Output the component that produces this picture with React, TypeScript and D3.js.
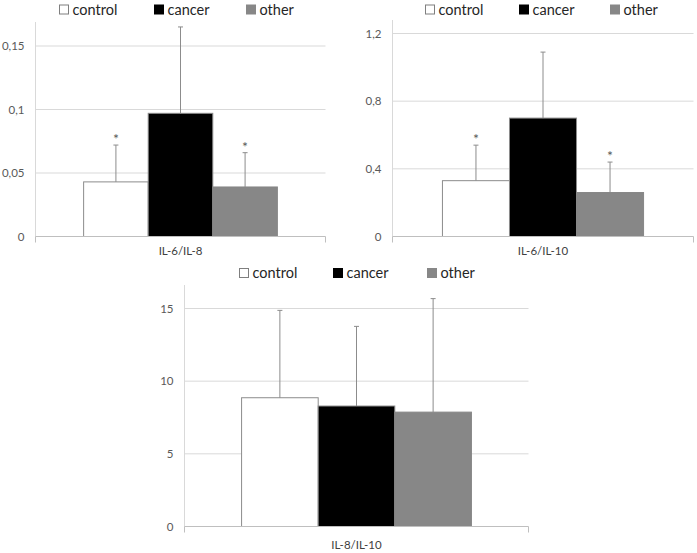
import React from "react";
import * as d3 from "d3";

const groups = ["control", "cancer", "other"];
const groupFills = ["#ffffff", "#000000", "#878787"];

const il6il8Label = "IL-6/IL-8";
const il6il8Means = [0.043, 0.097, 0.039];
const il6il8Errs = [0.029, 0.068, 0.027];
const il6il8Stars = [true, false, true];
const il6il8Ticks = [0, 0.05, 0.1, 0.15];
const il6il8TickLabels = ["0", "0,05", "0,1", "0,15"];

const il6il10Label = "IL-6/IL-10";
const il6il10Means = [0.33, 0.70, 0.26];
const il6il10Errs = [0.21, 0.39, 0.18];
const il6il10Stars = [true, false, true];
const il6il10Ticks = [0, 0.4, 0.8, 1.2];
const il6il10TickLabels = ["0", "0,4", "0,8", "1,2"];

const il8il10Label = "IL-8/IL-10";
const il8il10Means = [8.86, 8.29, 7.87];
const il8il10Errs = [6.01, 5.48, 7.81];
const il8il10Stars = [false, false, false];
const il8il10Ticks = [0, 5, 10, 15];
const il8il10TickLabels = ["0", "5", "10", "15"];

const FONT = "Lato, 'Open Sans', sans-serif";

type PanelProps = {
  label: string;
  means: number[];
  errs: number[];
  stars: boolean[];
  ticks: number[];
  tickLabels: string[];
  x0: number;
  x1: number;
  yZero: number;
  yTopTick: number;
  axisTop: number;
  legendX: number[];
  legendY: number;
  labelY: number;
};

function Panel(p: PanelProps) {
  const y = d3
    .scaleLinear()
    .domain([0, p.ticks[p.ticks.length - 1]])
    .range([p.yZero, p.yTopTick]);
  const x = d3
    .scaleBand<string>()
    .domain(groups)
    .range([p.x0, p.x1])
    .paddingInner(0)
    .paddingOuter(0.745);
  const bw = x.bandwidth();
  const cx = (p.x0 + p.x1) / 2;
  return (
    <g>
      {p.ticks.slice(1).map((t, i) => (
        <line key={"g" + i} x1={p.x0} x2={p.x1} y1={y(t)} y2={y(t)} stroke="#d9d9d9" strokeWidth={1} />
      ))}
      <line x1={p.x0} x2={p.x0} y1={p.axisTop} y2={p.yZero} stroke="#d9d9d9" strokeWidth={1} />
      {p.ticks.map((t, i) => (
        <text
          key={"t" + i}
          x={p.x0 - 11}
          y={y(t)}
          dy="0.35em"
          textAnchor="end"
          fontSize={11.5}
          fill="#595959"
          fontFamily={FONT}
        >
          {p.tickLabels[i]}
        </text>
      ))}
      {groups.map((g, i) => (
        <rect
          key={"b" + i}
          x={x(g)!}
          y={y(p.means[i])}
          width={bw}
          height={p.yZero - y(p.means[i])}
          fill={groupFills[i]}
          stroke={i === 2 ? "#878787" : "#8c8c8c"}
          strokeWidth={1}
        />
      ))}
      <line x1={p.x0} x2={p.x1} y1={p.yZero} y2={p.yZero} stroke="#bfbfbf" strokeWidth={1} />
      <line x1={p.x0} x2={p.x0} y1={p.yZero} y2={p.yZero + 6} stroke="#bfbfbf" strokeWidth={1} />
      <line x1={p.x1} x2={p.x1} y1={p.yZero} y2={p.yZero + 6} stroke="#bfbfbf" strokeWidth={1} />
      {groups.map((g, i) => {
        const ex = x(g)! + bw / 2;
        const top = y(p.means[i] + p.errs[i]);
        return (
          <g key={"e" + i}>
            <line x1={ex} x2={ex} y1={y(p.means[i])} y2={top} stroke="#8c8c8c" strokeWidth={1} />
            <line x1={ex - 2.5} x2={ex + 2.5} y1={top} y2={top} stroke="#8c8c8c" strokeWidth={1} />
            {p.stars[i] && (
              <text x={ex} y={top - 1} textAnchor="middle" fontSize={14} fill="#595959" fontFamily={FONT}>
                *
              </text>
            )}
          </g>
        );
      })}
      <text x={cx} y={p.labelY} dy="0.35em" textAnchor="middle" fontSize={11.5} fill="#404040" fontFamily={FONT}>
        {p.label}
      </text>
      {groups.map((g, i) => (
        <g key={"l" + i}>
          <rect
            x={p.legendX[i] + 0.5}
            y={p.legendY - 9.5}
            width={9}
            height={9}
            fill={groupFills[i]}
            stroke={i === 0 ? "#7f7f7f" : groupFills[i]}
            strokeWidth={1}
          />
          <text x={p.legendX[i] + 13.5} y={p.legendY} fontSize={14.5} fill="#262626" fontFamily={FONT}>
            {g}
          </text>
        </g>
      ))}
    </g>
  );
}

export default function App() {
  return (
    <svg width={697} height={553} style={{ position: "absolute", left: 0, top: 0, background: "#fff" }}>
      <rect width={697} height={553} fill="#fff" />
      <Panel
        label={il6il8Label}
        means={il6il8Means}
        errs={il6il8Errs}
        stars={il6il8Stars}
        ticks={il6il8Ticks}
        tickLabels={il6il8TickLabels}
        x0={35.5}
        x1={325.5}
        yZero={236.5}
        yTopTick={46}
        axisTop={22}
        legendX={[59, 154, 246]}
        legendY={14.5}
        labelY={251}
      />
      <Panel
        label={il6il10Label}
        means={il6il10Means}
        errs={il6il10Errs}
        stars={il6il10Stars}
        ticks={il6il10Ticks}
        tickLabels={il6il10TickLabels}
        x0={392.5}
        x1={693.5}
        yZero={236.5}
        yTopTick={33.5}
        axisTop={20}
        legendX={[425, 519, 610]}
        legendY={14.5}
        labelY={251}
      />
      <Panel
        label={il8il10Label}
        means={il8il10Means}
        errs={il8il10Errs}
        stars={il8il10Stars}
        ticks={il8il10Ticks}
        tickLabels={il8il10TickLabels}
        x0={184.5}
        x1={528.5}
        yZero={526.5}
        yTopTick={308.5}
        axisTop={285}
        legendX={[239, 333, 427]}
        legendY={278}
        labelY={545}
      />
    </svg>
  );
}
